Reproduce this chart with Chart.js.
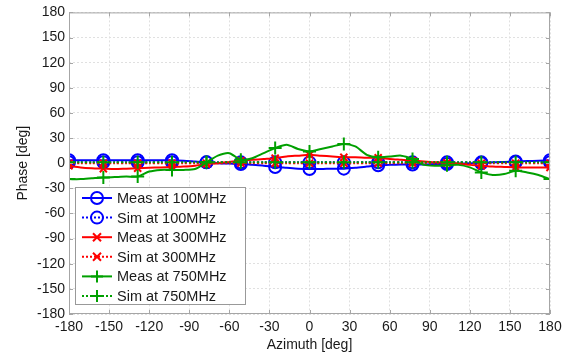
<!DOCTYPE html>
<html>
<head>
<meta charset="utf-8">
<script src="https://cdn.jsdelivr.net/npm/chart.js@4/dist/chart.umd.min.js"></script>
<style>
  html, body { margin: 0; padding: 0; background: #fff; }
  #wrap { width: 573px; height: 358px; }
</style>
</head>
<body>
<div id="wrap"><canvas id="phase-chart" width="573" height="358"></canvas></div>
<script>
// azimuth samples (deg); a marker sits on every third sample
const azimuth = [-180, -171.4, -162.9, -154.3, -145.7, -137.1, -128.6, -120, -111.4, -102.9,
  -94.3, -85.7, -77.1, -68.6, -60, -51.4, -42.9, -34.3, -25.7, -17.1, -8.6, 0,
  8.6, 17.1, 25.7, 34.3, 42.9, 51.4, 60, 68.6, 77.1, 85.7, 94.3, 102.9, 111.4,
  120, 128.6, 137.1, 145.7, 154.3, 162.9, 171.4, 180]

const meas100 = [3.5, 3.5, 3.5, 3.5, 3.5, 3.5, 3.5, 3.5, 3.5, 3.5,
  3, 2, 1, 0, -0.5, -1, -2, -3, -4.5, -5.5, -6.5, -7,
  -7, -6.5, -6.5, -5.5, -4, -2.5, -2, -1.5, -1.5, -1.5, -1, -1, -0.5,
  0, 0, 1, 1.5, 2, 2.5, 3, 3.5]
const sim100 = [1, 1, 1, 1, 1, 1, 1, 1, 1, 1,
  1, 1, 1, 1, 1, 1, 1, 1, 1, 1, 1, 1,
  1, 1, 1, 1, 1, 1, 1, 1, 1, 1, 1, 1, 1,
  1, 1, 1, 1, 1, 1, 1, 1]
const meas300 = [-3, -5, -6, -6.5, -7, -6.5, -6, -5.5, -5, -4.5,
  -4, -3, -1, 0, 1.5, 3, 4, 5, 6, 8, 9, 10,
  9, 8, 7, 7, 6.5, 6.5, 5, 4, 3, 2, 1, 0.5, -0.5,
  -2, -3, -4, -4.5, -5, -5, -5, -5]
const sim300 = [0, 0, 0, 0, 0, 0, 0, 0, 0, 0,
  0, 0, 0, 0, 0, 0, 0, 0, 0, 0, 0, 0,
  0, 0, 0, 0, 0, 0, 0, 0, 0, 0, 0, 0, 0,
  0, 0, 0, 0, 0, 0, 0, 0]
const meas750 = [-19, -19, -18, -17, -16.5, -16, -16, -10, -8, -8,
  -8, -7, 1, 9, 12, 4, 6, 12, 18, 22, 17, 14,
  17, 20, 23, 20, 10, 7, 8, 9, 5, -2, -3, -2.5, -2,
  -5, -11, -14, -13, -9, -11, -14, -19]
const sim750 = [1, 1, 1, 1, 1, 1, 1, 1, 1, 1,
  1, 1, 1, 1, 1, 1, 1, 1, 1, 1, 1, 1,
  1, 1, 1, 1, 1, 1, 1, 1, 1, 1, 1, 1, 1,
  1, 1, 1, 1, 1, 1, 1, 1]

const seriesLabels = ['Meas at 100MHz', 'Sim at 100MHz', 'Meas at 300MHz',
  'Sim at 300MHz', 'Meas at 750MHz', 'Sim at 750MHz']
const axisTicks = [-180, -150, -120, -90, -60, -30, 0, 30, 60, 90, 120, 150, 180]

const BLUE = '#0000ff'
const RED = '#ff0000'
const GREEN = '#00a000'
const FONT = "'Liberation Sans', Arial, sans-serif"

function series(label, ys, color, style, radius, dashed, idx) {
  return {
    label: label,
    data: azimuth.map((x, i) => ({ x: x, y: ys[i] })),
    borderColor: color,
    borderWidth: 2,
    borderDash: dashed ? [2, 2] : [],
    tension: 0.25,
    pointStyle: style,
    pointRadius: (ctx) => (ctx.dataIndex % 3 === 0 ? radius : 0),
    pointHoverRadius: 0,
    pointBorderColor: color,
    pointBackgroundColor: 'rgba(0,0,0,0)',
    pointBorderWidth: 2,
    order: 5 - idx
  }
}

const datasets = [
  series(seriesLabels[0], meas100, BLUE, 'circle', 6, false, 0),
  series(seriesLabels[1], sim100, BLUE, 'circle', 6, true, 1),
  series(seriesLabels[2], meas300, RED, 'crossRot', 5, false, 2),
  series(seriesLabels[3], sim300, RED, 'crossRot', 5, true, 3),
  series(seriesLabels[4], meas750, GREEN, 'cross', 6.5, false, 4),
  series(seriesLabels[5], sim750, GREEN, 'cross', 6.5, true, 5)
]

// MATLAB-like box with inward ticks, plus the legend in the lower left
const boxAndLegend = {
  id: 'boxAndLegend',
  afterDraw(chart) {
    const { ctx, chartArea: a, scales } = chart
    ctx.save()
    ctx.strokeStyle = '#a6a6a6'
    ctx.lineWidth = 1
    ctx.setLineDash([])
    ctx.strokeRect(a.left + 0.5, a.top + 0.5, a.right - a.left - 1, a.bottom - a.top - 1)
    ctx.beginPath()
    axisTicks.forEach((v) => {
      const x = Math.round(scales.x.getPixelForValue(v)) + 0.5
      const y = Math.round(scales.y.getPixelForValue(v)) + 0.5
      ctx.moveTo(x, a.bottom); ctx.lineTo(x, a.bottom - 4)
      ctx.moveTo(x, a.top); ctx.lineTo(x, a.top + 4)
      ctx.moveTo(a.left, y); ctx.lineTo(a.left + 4, y)
      ctx.moveTo(a.right, y); ctx.lineTo(a.right - 4, y)
    })
    ctx.stroke()

    // legend
    const bx = 75.5, by = 187.5, bw = 170, bh = 117
    ctx.fillStyle = '#fff'
    ctx.fillRect(bx, by, bw, bh)
    ctx.strokeStyle = '#999'
    ctx.strokeRect(bx, by, bw, bh)
    ctx.font = '14.5px ' + FONT
    ctx.textBaseline = 'middle'
    chart.data.datasets.forEach((ds, i) => {
      const y = 198 + i * 19.6
      ctx.strokeStyle = ds.borderColor
      ctx.lineWidth = 2
      ctx.setLineDash(ds.borderDash)
      ctx.beginPath()
      ctx.moveTo(82, y); ctx.lineTo(112, y)
      ctx.stroke()
      ctx.setLineDash([])
      ctx.beginPath()
      const mx = 97
      if (ds.pointStyle === 'circle') {
        ctx.arc(mx, y, 6, 0, Math.PI * 2)
      } else if (ds.pointStyle === 'crossRot') {
        ctx.moveTo(mx - 4, y - 4); ctx.lineTo(mx + 4, y + 4)
        ctx.moveTo(mx - 4, y + 4); ctx.lineTo(mx + 4, y - 4)
      } else {
        ctx.moveTo(mx - 6, y); ctx.lineTo(mx + 6, y)
        ctx.moveTo(mx, y - 6); ctx.lineTo(mx, y + 6)
      }
      ctx.stroke()
      ctx.fillStyle = '#1a1a1a'
      ctx.fillText(ds.label, 117, y + 1)
    })
    ctx.restore()
  }
}

const tickFont = { family: FONT, size: 14 }

new Chart(document.getElementById('phase-chart'), {
  type: 'line',
  data: { datasets: datasets },
  plugins: [boxAndLegend],
  options: {
    responsive: false,
    animation: false,
    layout: { padding: { top: 7, right: 23, left: 0, bottom: 0 } },
    plugins: {
      legend: { display: false },
      tooltip: { enabled: false }
    },
    scales: {
      x: {
        type: 'linear',
        min: -180,
        max: 180,
        afterBuildTicks: (scale) => { scale.ticks = axisTicks.map((v) => ({ value: v })) },
        afterFit: (scale) => { scale.height = 44 },
        grid: { color: '#e0e0e0', lineWidth: 1, drawTicks: false },
        border: { display: false, dash: [2, 2] },
        ticks: { color: '#1a1a1a', font: tickFont, padding: 5, maxRotation: 0, autoSkip: false },
        title: { display: true, text: 'Azimuth [deg]', color: '#1a1a1a', font: tickFont, padding: { top: 0, bottom: 4 } }
      },
      y: {
        type: 'linear',
        min: -180,
        max: 180,
        afterBuildTicks: (scale) => { scale.ticks = axisTicks.map((v) => ({ value: v })) },
        afterFit: (scale) => { scale.width = 69 },
        grid: { color: '#e0e0e0', lineWidth: 1, drawTicks: false },
        border: { display: false, dash: [2, 2] },
        ticks: { color: '#1a1a1a', font: tickFont, padding: 4, autoSkip: false },
        title: { display: true, text: 'Phase [deg]', color: '#1a1a1a', font: tickFont, padding: { top: 15, bottom: 0 } }
      }
    }
  }
})
</script>
</body>
</html>
